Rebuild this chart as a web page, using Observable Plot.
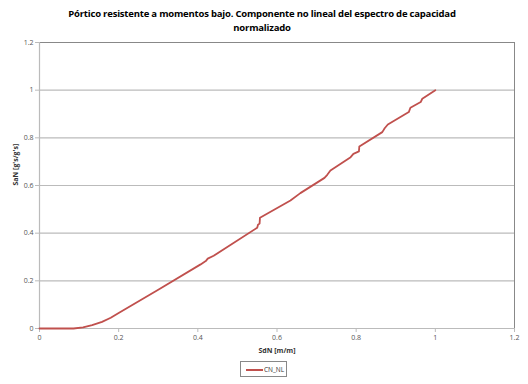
<!DOCTYPE html>
<html><head><meta charset="utf-8">
<script src="https://cdn.jsdelivr.net/npm/d3@7"></script>
<script src="https://cdn.jsdelivr.net/npm/@observablehq/plot@0.6"></script>
<style>
body{margin:0;background:#fff;}
#wrap{position:relative;width:528px;height:384px;font-family:"Open Sans","Liberation Sans",sans-serif;}
#title{position:absolute;left:20px;width:484px;top:7px;text-align:center;font-weight:bold;font-size:9.5px;letter-spacing:-0.2px;line-height:14px;color:#000;}
#legend{position:absolute;left:240px;top:361px;width:47px;height:16px;border:1px solid #888;box-sizing:border-box;font-size:6.5px;color:#333;}
#legend .sw{position:absolute;left:5px;top:7px;width:17px;height:2px;background:#c0504d;}
#legend .lb{position:absolute;left:23px;top:3px;}
</style></head>
<body><div id="wrap">
<div id="title">Pórtico resistente a momentos bajo. Componente no lineal del espectro de capacidad<br>normalizado</div>
<div id="chart"></div>
<div id="legend"><div class="sw"></div><div class="lb">CN_NL</div></div>
</div>
<script>
const sdN = [0,0.086,0.11,0.133,0.158,0.18,0.2,0.3,0.407,0.42,0.425,0.44,0.55,0.552,0.556,0.557,0.634,0.659,0.72,0.727,0.735,0.786,0.793,0.807,0.808,0.866,0.872,0.88,0.933,0.937,0.963,0.967,1.0];
const saN = [0,0,0.005,0.014,0.028,0.045,0.065,0.163,0.269,0.283,0.293,0.305,0.423,0.435,0.44,0.465,0.537,0.568,0.632,0.645,0.663,0.719,0.733,0.743,0.764,0.824,0.84,0.856,0.908,0.926,0.95,0.964,1.0];
const ticks = [0,0.2,0.4,0.6,0.8,1,1.2];
const seriesName = "CN_NL";
const data = sdN.map((x,i)=>({x, y: saN[i]}));
const fmt = d => String(+d.toFixed(1));
const chart = Plot.plot({
  width: 528, height: 384,
  marginLeft: 39, marginRight: 14, marginTop: 42, marginBottom: 56,
  style: {fontFamily: '"Open Sans","Liberation Sans",sans-serif', fontSize: "7px", color: "#555", background: "transparent"},
  x: {domain: [0,1.2], ticks, tickFormat: fmt, tickSize: 4, label: null},
  y: {domain: [0,1.2], ticks, tickFormat: fmt, tickSize: 4, label: null},
  marks: [
    Plot.ruleY(ticks.filter(t=>t>0 && t<1.2), {stroke: "#bbb", strokeWidth: 1.2}),
    Plot.ruleY([1.2], {stroke: "#888", strokeWidth: 1}),
    Plot.ruleX([1.2], {stroke: "#888", strokeWidth: 1}),
    Plot.ruleX([0], {stroke: "#bbb", strokeWidth: 1.2}),
    Plot.ruleY([0], {stroke: "#bbb", strokeWidth: 1.2}),
    Plot.axisX({ticks, tickFormat: fmt, tickSize: 4, stroke: "#bbb", fill: "#555", tickPadding: 3, label: null}),
    Plot.axisY({ticks, tickFormat: fmt, tickSize: 4, stroke: "#bbb", fill: "#555", tickPadding: 2, label: null}),
    Plot.line(data, {x: "x", y: "y", stroke: "#c0504d", strokeWidth: 1.8}),
    Plot.text([seriesName], {frameAnchor: "bottom", dy: 24, text: () => "SdN [m/m]", fontWeight: "bold", fill: "#333"}),
    Plot.text([seriesName], {frameAnchor: "left", dx: -24, rotate: -90, text: () => "SaN [g's/g's]", fontWeight: "bold", fill: "#333"})
  ]
});
document.getElementById("chart").appendChild(chart);
</script>
</body></html>
